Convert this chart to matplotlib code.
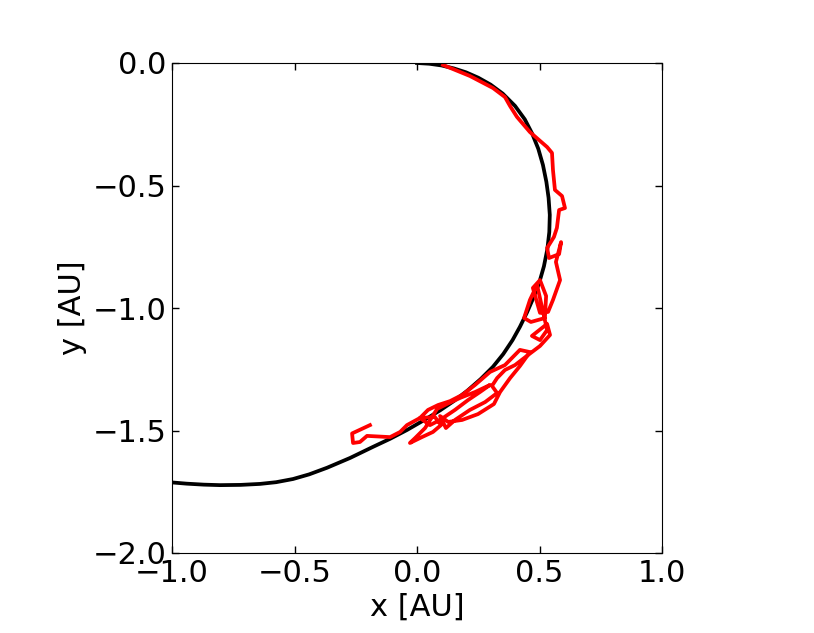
import matplotlib
matplotlib.use('Agg')
import matplotlib.pyplot as plt

# orbit (black)
orbit_x = [0.0, 0.05, 0.10, 0.15, 0.20, 0.25, 0.30, 0.35, 0.40, 0.44, 0.47,
           0.495, 0.514, 0.528, 0.537, 0.542, 0.540, 0.532, 0.518, 0.498, 0.473,
           0.449, 0.420, 0.390, 0.352, 0.310, 0.260, 0.205, 0.150, 0.094, 0.030,
           -0.041, -0.110, -0.180, -0.273, -0.367, -0.440, -0.506, -0.575, -0.641,
           -0.720, -0.804, -0.870, -0.940, -1.0, -1.05]
orbit_y = [0.0, -0.003, -0.010, -0.022, -0.038, -0.060, -0.088, -0.125, -0.175, -0.230, -0.288,
           -0.350, -0.416, -0.485, -0.550, -0.620, -0.690, -0.760, -0.830, -0.900, -0.963,
           -1.018, -1.077, -1.131, -1.188, -1.240, -1.290, -1.338, -1.380, -1.418, -1.457,
           -1.498, -1.534, -1.567, -1.612, -1.652, -1.679, -1.698, -1.711, -1.718,
           -1.722, -1.723, -1.721, -1.717, -1.712, -1.706]

# track (red)
track_x = [0.106, 0.216, 0.310, 0.359, 0.380, 0.408, 0.461, 0.531, 0.551, 0.555,
           0.563, 0.592, 0.604, 0.580, 0.571, 0.559, 0.531, 0.539, 0.580, 0.588,
           0.567, 0.584, 0.555, 0.535, 0.502, 0.473, 0.502, 0.527, 0.522, 0.465,
           0.437, 0.461, 0.490, 0.531, 0.502, 0.469, 0.531, 0.543, 0.502, 0.453,
           0.400, 0.359, 0.327, 0.306, 0.327, 0.278, 0.216, 0.155, 0.118, 0.094,
           0.127, 0.184, 0.249, 0.314, 0.339, 0.380, 0.420, 0.461, 0.420, 0.359,
           0.298, 0.237, 0.184, 0.135, 0.086, 0.045, 0.012, 0.053, 0.094, 0.155,
           0.208, 0.257, 0.298, 0.237, 0.176, 0.122, 0.082, 0.033, -0.008, -0.029,
           0.020, 0.065, 0.098, 0.073, 0.012, -0.041, -0.069, -0.110, -0.204, -0.233,
           -0.261, -0.265, -0.192]
track_y = [-0.008, -0.053, -0.102, -0.139, -0.176, -0.220, -0.282, -0.343, -0.367, -0.437,
           -0.518, -0.543, -0.592, -0.600, -0.673, -0.710, -0.755, -0.796, -0.780, -0.731,
           -0.812, -0.886, -0.967, -1.016, -1.020, -0.918, -0.886, -0.951, -1.041, -1.057,
           -1.041, -0.967, -0.906, -1.090, -1.131, -1.114, -1.065, -1.110, -1.155, -1.192,
           -1.233, -1.253, -1.286, -1.318, -1.347, -1.384, -1.416, -1.457, -1.490, -1.441,
           -1.465, -1.457, -1.433, -1.392, -1.343, -1.286, -1.237, -1.180, -1.171, -1.233,
           -1.261, -1.314, -1.355, -1.380, -1.396, -1.416, -1.449, -1.478, -1.457, -1.416,
           -1.376, -1.343, -1.314, -1.343, -1.367, -1.392, -1.412, -1.490, -1.531, -1.551,
           -1.527, -1.506, -1.478, -1.445, -1.449, -1.478, -1.506, -1.527, -1.522, -1.547,
           -1.551, -1.512, -1.478]

xticks = [-1.0, -0.5, 0.0, 0.5, 1.0]
yticks = [-2.0, -1.5, -1.0, -0.5, 0.0]

plt.rcParams['font.family'] = 'DejaVu Sans'

fig = plt.figure(figsize=(8.14, 6.33), dpi=100)
ax = fig.add_axes([172 / 814, 80 / 633, 490 / 814, 490 / 633])

ax.plot(orbit_x, orbit_y, color='black', lw=2.7, solid_joinstyle='round')
ax.plot(track_x, track_y, color='red', lw=2.7, solid_joinstyle='round')

ax.set_xlim(-1, 1)
ax.set_ylim(-2, 0)
ax.set_xticks(xticks)
ax.set_yticks(yticks)
ax.set_xticklabels([f'{v:.1f}'.replace('-', '\u2212') for v in xticks])
ax.set_yticklabels([f'{v:.1f}'.replace('-', '\u2212') for v in yticks])
ax.tick_params(direction='in', top=True, right=True, length=5, width=1,
               labelsize=22, pad=4)
ax.set_xlabel('x [AU]', fontsize=22, labelpad=4)
ax.set_ylabel('y [AU]', fontsize=22, labelpad=4)

fig.savefig('out.png', dpi=100)
